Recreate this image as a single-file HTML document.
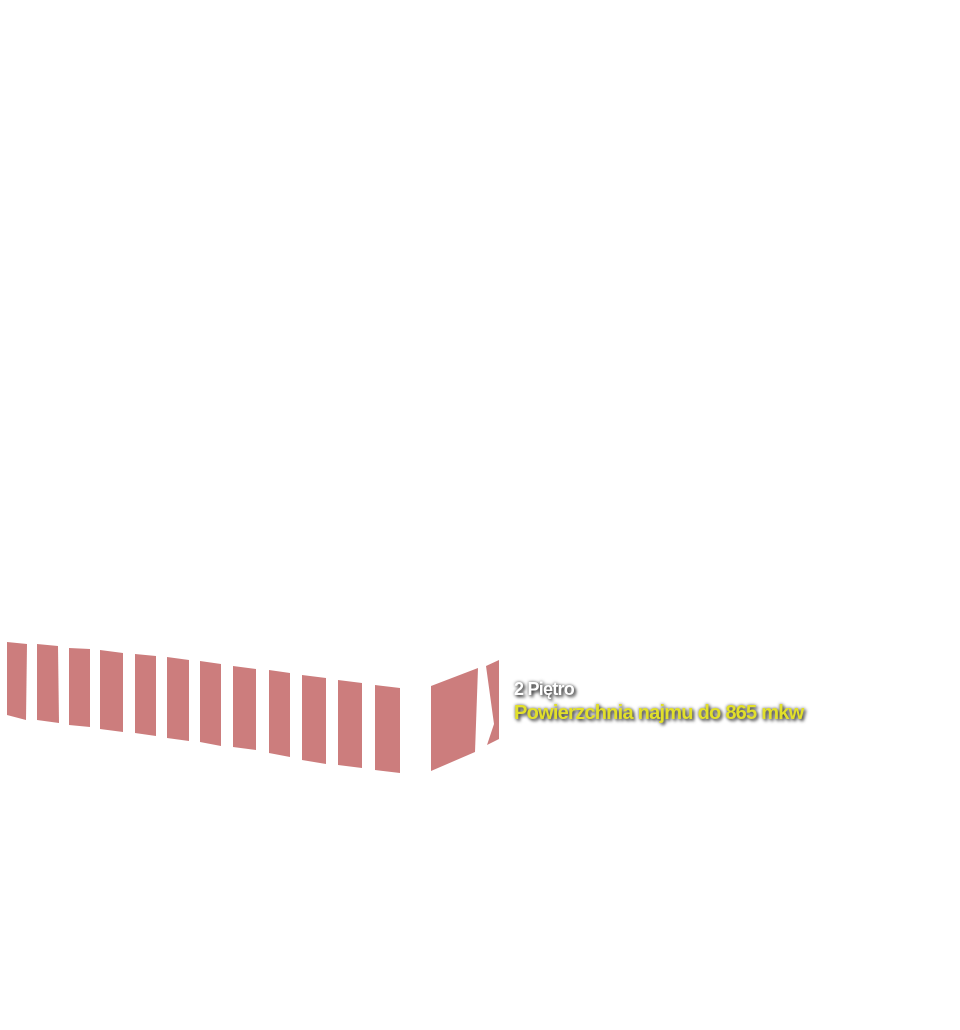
<!DOCTYPE html>
<html><head><meta charset="utf-8"><style>
html,body{margin:0;padding:0;background:#fff;width:960px;height:1030px;overflow:hidden;position:relative}
svg{position:absolute;left:0;top:0}
.t{position:absolute;font-family:"Liberation Sans",sans-serif;font-weight:bold;white-space:nowrap;letter-spacing:-0.75px}
</style></head><body>
<svg width="960" height="1030" viewBox="0 0 960 1030">
<g fill="#cc7d7d">
<polygon points="7,642 27,644 26,720 7,715"/>
<polygon points="37,644 58,646 59,723 37,720"/>
<polygon points="69,648 90,649 90,727 69,725"/>
<polygon points="100,650 123,653 123,732 100,729"/>
<polygon points="135,654 156,656 156,736 135,733"/>
<polygon points="167,657 189,660 189,741 167,738"/>
<polygon points="200,661 221,664 221,746 200,742"/>
<polygon points="233,666 256,669 256,750 233,747"/>
<polygon points="269,670 290,673 290,757 269,753"/>
<polygon points="302,675 326,678 326,764 302,760"/>
<polygon points="338,680 362,683 362,768 338,765"/>
<polygon points="375,685 400,688 400,773 375,770"/>
<polygon points="431,686 478,668 475,752 431,771"/>
<polygon points="486,666 499,660 499,739 487,745 494,724"/>
</g>
</svg>
<div class="t" style="left:514px;top:679px;font-size:18px;color:#fff;text-shadow:2px 2px 3px #333,0 0 3px #555">2 Piętro</div>
<div class="t" style="left:514px;top:702px;font-size:20px;color:#e2e02a;text-shadow:2px 2px 3px #444,0 0 3px #666">Powierzchnia najmu do 865 mkw</div>
</body></html>
